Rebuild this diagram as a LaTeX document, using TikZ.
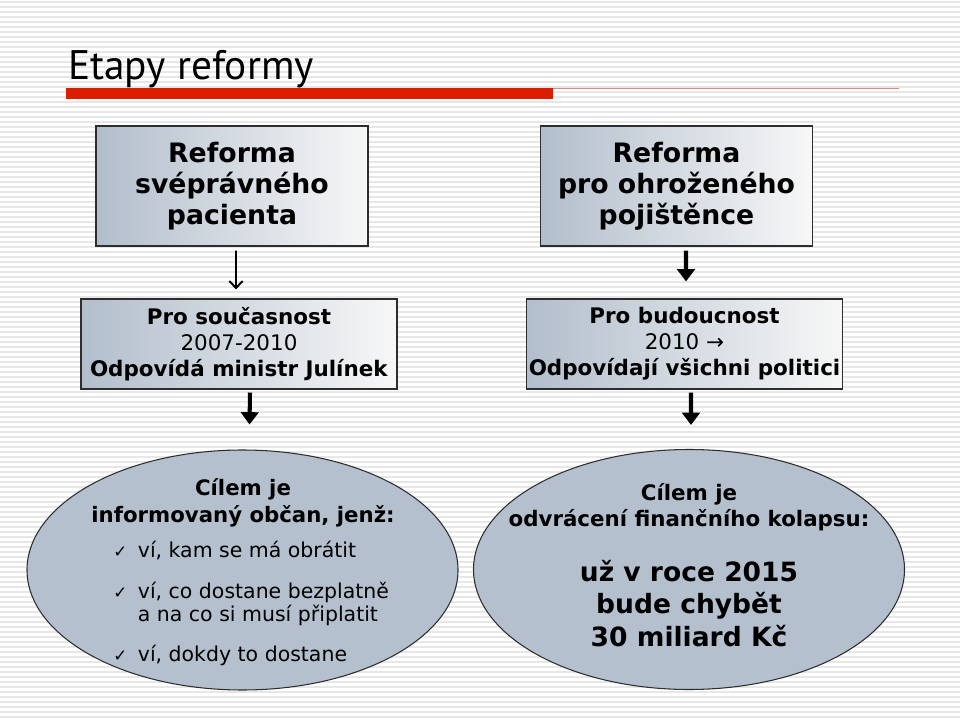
\documentclass[tikz,border=0pt]{standalone}
\usepackage{fontspec}
\setmainfont{DejaVu Sans}
\newfontfamily\titlefont{PT Sans}
\usetikzlibrary{arrows.meta,shapes.geometric}
\definecolor{figstripe}{RGB}{231,231,231}
\definecolor{figred}{RGB}{220,30,0}
\definecolor{figrule}{RGB}{222,140,120}
\definecolor{figbox}{RGB}{178,190,204}
\definecolor{figboxlt}{RGB}{247,247,247}
\definecolor{figline}{RGB}{45,45,45}
\definecolor{figoval}{RGB}{180,192,205}
\tikzset{
  box/.style   ={draw=figline, line width=0.6pt, left color=figbox, right color=figboxlt, align=center, inner sep=0pt},
  bigbox/.style={box, minimum width=5.44cm, minimum height=2.4cm, font=\fontsize{15.2}{17.6}\selectfont\bfseries},
  midbox/.style={box, minimum width=6.32cm, minimum height=1.8cm, font=\fontsize{12.2}{14.7}\selectfont},
  oval/.style  ={ellipse, draw=figline, line width=0.6pt, fill=figoval, minimum width=8.62cm, minimum height=4.8cm, inner sep=0pt},
  head/.style  ={font=\fontsize{12.1}{15.3}\selectfont\bfseries, align=center, inner sep=0pt, anchor=base},
  thinarr/.style={draw=black, line width=1.1pt, -{Straight Barb[width=7.5pt,length=4pt]}},
  fatarr/.style ={draw=black, line width=2.3pt, -{Triangle[width=10pt,length=7pt]}},
}
\newcommand{\chk}{{\fontsize{9.5}{9.5}\selectfont ✓}}

\begin{document}
\begin{tikzpicture}
  \useasboundingbox (0,0) rectangle (19.2,14.4);
  \fill[white] (0,0) rectangle (19.2,14.4);
  \foreach \i in {0,...,143}
    \draw[figstripe, line width=1.1pt] (0,14.36-0.1*\i) -- (19.2,14.36-0.1*\i);
  % title
  \node[anchor=base west, inner sep=0pt, font=\titlefont\fontsize{23.5}{28}\selectfont] (title) at (1.36,12.8) {Etapy reformy};
  \fill[figred] (1.32,12.42) rectangle (11.06,12.64);
  \draw[figrule, line width=0.6pt] (11.06,12.63) -- (17.98,12.63);
  % boxes
  \node[bigbox] (b1) at (4.64,10.68) {Reforma\\svéprávného\\pacienta};
  \node[bigbox] (b2) at (13.53,10.68) {Reforma\\pro ohroženého\\pojištěnce};
  \node[midbox] (b3) at (4.78,7.52) {\textbf{Pro současnost}\\2007-2010\\\textbf{Odpovídá ministr Julínek}};
  \node[midbox] (b4) at (13.69,7.52) {\textbf{Pro budoucnost}\\2010 →\\\textbf{Odpovídají všichni politici}};
  % ovals
  \node[oval] (e1) at (4.85,3.0) {};
  \node[oval] (e2) at (13.78,3.01) {};
  \node[head] (e1head) at (4.86,3.96) {Cílem je\\informovaný občan, jenž:};
  \node[anchor=base west, inner sep=0pt, font=\fontsize{11.65}{13}\selectfont] (e1list) at (2.26,3.26)
    {\begin{tabular}[t]{@{}l@{\hspace{6pt}}l@{}}
      \chk & ví, kam se má obrátit\\[10.5pt]
      \chk & ví, co dostane bezplatně\\
           & a na co si musí připlatit\\[9.5pt]
      \chk & ví, dokdy to dostane
     \end{tabular}};
  \node[head, font=\fontsize{12.15}{14.7}\selectfont\bfseries] (e2head) at (13.78,3.88) {Cílem je\\odvrácení finančního kolapsu:};
  \node[head, font=\fontsize{15.1}{18.4}\selectfont\bfseries] (e2big) at (13.78,1.48) {už v roce 2015\\bude chybět\\30 miliard Kč};
  % arrows
  \draw[thinarr] ([xshift=0.08cm,yshift=-0.08cm]b1.south) -- ([xshift=-0.06cm,yshift=0.18cm]b3.north);
  \draw[fatarr] ([xshift=0.19cm,yshift=-0.08cm]b2.south) -- ([xshift=0.03cm,yshift=0.34cm]b4.north);
  \draw[fatarr] ([xshift=0.22cm,yshift=-0.06cm]b3.south) -- ([xshift=0.14cm,yshift=0.5cm]e1.north);
  \draw[fatarr] ([xshift=0.13cm,yshift=-0.06cm]b4.south) -- ([xshift=0.04cm,yshift=0.48cm]e2.north);
\end{tikzpicture}
\end{document}
